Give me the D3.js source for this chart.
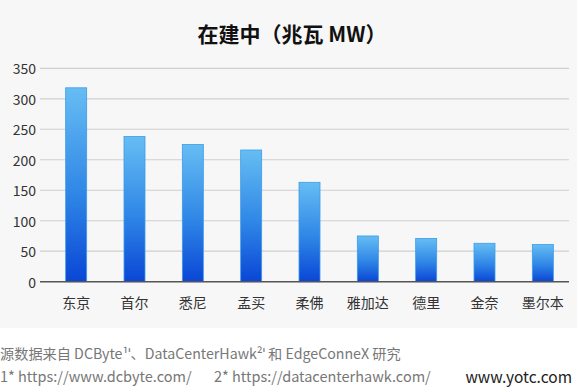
<!DOCTYPE html>
<html>
<head>
<meta charset="utf-8">
<script src="https://cdn.jsdelivr.net/npm/d3@7"></script>
<style>
  body { margin: 0; background: #fff; }
  svg { display: block; }
  text { font-family: "Noto Sans CJK SC", "Noto Sans", sans-serif; }
</style>
</head>
<body>
<svg id="chart"></svg>
<script>
const cities = ["东京", "首尔", "悉尼", "孟买", "柔佛", "雅加达", "德里", "金奈", "墨尔本"];
const values = [318, 238, 225, 216, 163, 75, 71, 63, 61];
const yTicks = [0, 50, 100, 150, 200, 250, 300, 350];
const title = "在建中（兆瓦 MW）";
const sourceNote = "源数据来自 DCByte¹ˈ、DataCenterHawk²ˈ 和 EdgeConneX 研究";
const links = ["1* https://www.dcbyte.com/", "2* https://datacenterhawk.com/"];

const width = 577, height = 389;
const svg = d3.select("svg#chart").attr("width", width).attr("height", height);

// background panel
svg.append("rect").attr("width", width).attr("height", 328).attr("fill", "#f7f7f7");

const defs = svg.append("defs");
const grad = defs.append("linearGradient")
  .attr("id", "barGrad").attr("x1", 0).attr("y1", 0).attr("x2", 0).attr("y2", 1);
grad.append("stop").attr("offset", "0%").attr("stop-color", "#66bdf3");
grad.append("stop").attr("offset", "55%").attr("stop-color", "#2f86e6");
grad.append("stop").attr("offset", "100%").attr("stop-color", "#0a46d6");

const x = d3.scaleBand().domain(cities).range([47, 572]).paddingInner(0.64).paddingOuter(0.32);
const y = d3.scaleLinear().domain([0, 350]).range([281.7, 68.3]);

// title
svg.append("text")
  .attr("x", 292).attr("y", 33)
  .attr("text-anchor", "middle")
  .attr("dominant-baseline", "central")
  .style("font-size", "21px")
  .style("font-weight", "bold")
  .style("fill", "#111")
  .text(title);

// grid
svg.append("g")
  .selectAll("line")
  .data(yTicks.filter(d => d > 0))
  .join("line")
  .attr("x1", 40).attr("x2", 569)
  .attr("y1", d => y(d)).attr("y2", d => y(d))
  .style("stroke", "#cfcfcf")
  .style("stroke-width", 1.2);

// y labels
svg.append("g")
  .selectAll("text")
  .data(yTicks)
  .join("text")
  .attr("x", 36).attr("y", d => y(d))
  .attr("text-anchor", "end")
  .attr("dominant-baseline", "central")
  .style("font-size", "14px")
  .style("fill", "#333")
  .text(d => d);

// bars
svg.append("g")
  .selectAll("rect")
  .data(values)
  .join("rect")
  .attr("x", (d, i) => x(cities[i]))
  .attr("y", d => y(d))
  .attr("width", x.bandwidth())
  .attr("height", d => y(0) - y(d))
  .style("fill", "url(#barGrad)")
  .style("stroke", "#3d9be8")
  .style("stroke-width", 0.8);

// baseline
svg.append("line")
  .attr("x1", 40).attr("x2", 569)
  .attr("y1", y(0)).attr("y2", y(0))
  .style("stroke", "#555")
  .style("stroke-width", 1.5);

// x labels
svg.append("g")
  .selectAll("text")
  .data(cities)
  .join("text")
  .attr("x", d => x(d) + x.bandwidth() / 2)
  .attr("y", 302)
  .attr("text-anchor", "middle")
  .attr("dominant-baseline", "central")
  .style("font-size", "14px")
  .style("fill", "#333")
  .text(d => d);

// footnotes
svg.append("text")
  .attr("x", 0).attr("y", 353)
  .attr("dominant-baseline", "central")
  .style("font-size", "14.2px")
  .style("fill", "#777")
  .text(sourceNote);

svg.append("g")
  .selectAll("text")
  .data(links)
  .join("text")
  .attr("x", (d, i) => i === 0 ? 0 : 214)
  .attr("y", 375)
  .attr("dominant-baseline", "central")
  .style("font-size", "14.5px")
  .style("fill", "#777")
  .text(d => d);

svg.append("text")
  .attr("x", 572).attr("y", 376)
  .attr("text-anchor", "end")
  .attr("dominant-baseline", "central")
  .style("font-size", "15.5px")
  .style("fill", "#222")
  .text("www.yotc.com");
</script>
</body>
</html>
